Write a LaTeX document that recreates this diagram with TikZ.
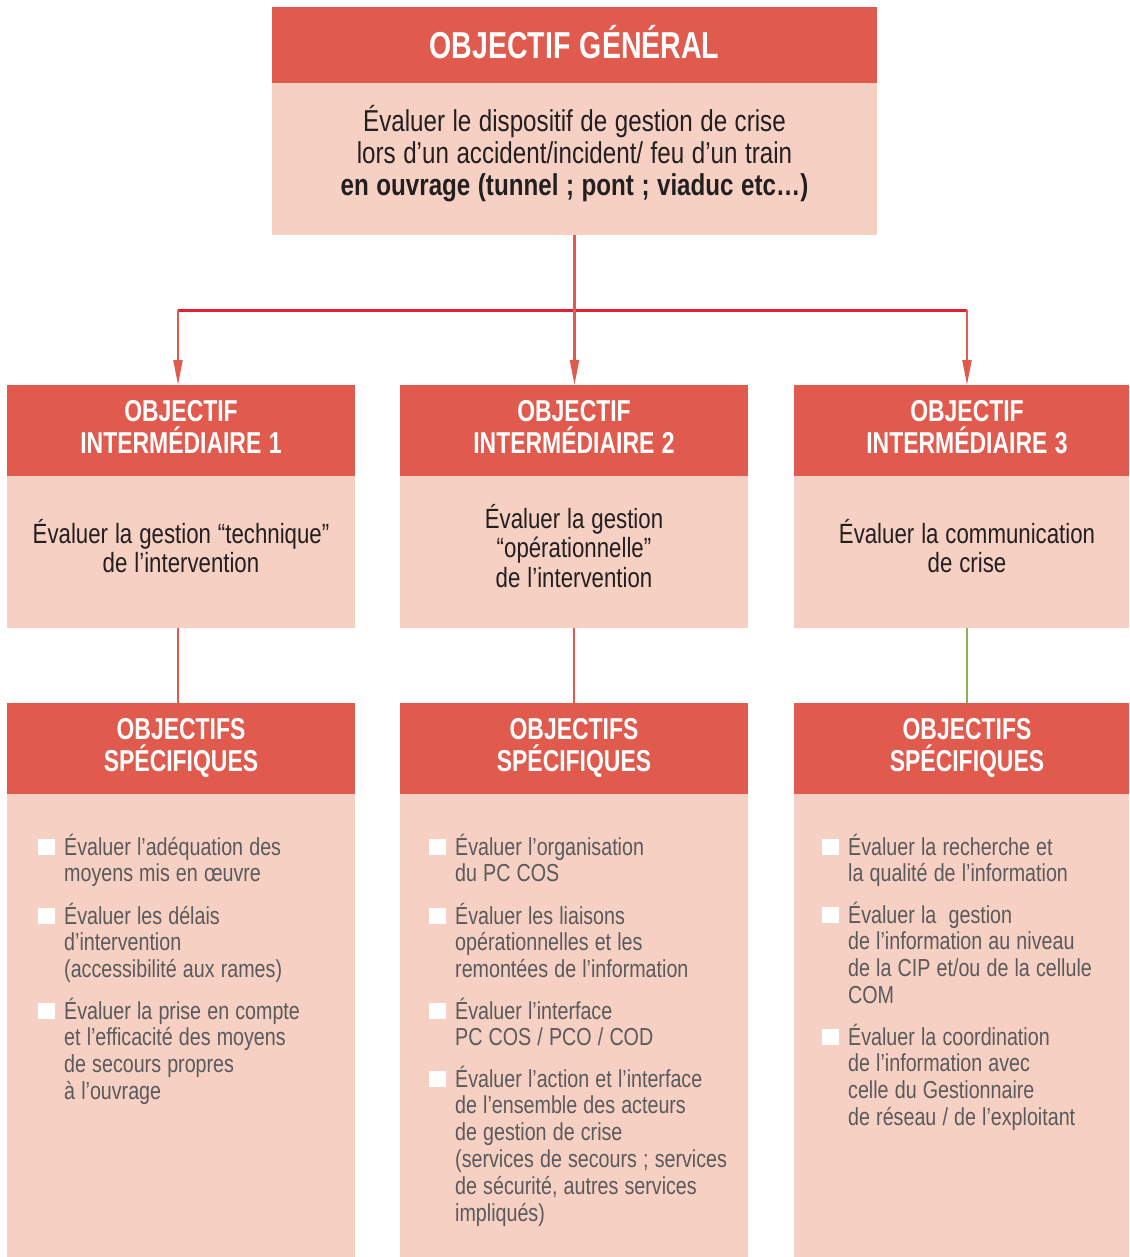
\documentclass[tikz,border=0pt]{standalone}
\usepackage{fontspec}
\setmainfont[FakeStretch=0.8]{Liberation Sans}
\newfontfamily\hdrfont[FakeStretch=0.76]{Liberation Sans}
\usetikzlibrary{arrows.meta}
\definecolor{hdr}{HTML}{E05A4D}
\definecolor{bodyc}{HTML}{F6D0C3}
\definecolor{crim}{HTML}{E2202F}
\definecolor{grn}{HTML}{8AB05A}
\definecolor{txtd}{HTML}{231F20}
\definecolor{txtg}{HTML}{5A5A5C}
\newcommand{\bitem}[4]{%
  \node[sq, anchor=south west] (#1q) at (#2-26,#3) {};
  \node[btxt] (#1) at (#2,#3) {#4};}
\newcommand{\tightsp}{\spaceskip=0.25em\relax\xspaceskip=0.25em\relax}
\begin{document}
\begin{tikzpicture}[x=1pt,y=-1pt,
  box/.style={draw=none, inner sep=0pt, outer sep=0pt, anchor=north west},
  hbox/.style={box, fill=hdr},
  bbox/.style={box, fill=bodyc},
  tt/.style={execute at begin node=\tightsp, inner sep=0pt},
  htxt/.style={tt, text=white, font=\hdrfont\bfseries\fontsize{30.2}{32}\selectfont, align=center, text width=330pt, anchor=base},
  gtxt/.style={tt, text=white, font=\hdrfont\bfseries\fontsize{37.5}{40}\selectfont, align=center, text width=560pt, anchor=base},
  toptxt/.style={tt, text=txtd, font=\fontsize{30.2}{32}\selectfont, align=center, text width=580pt, anchor=base},
  itxt/.style={tt, text=txtd, font=\fontsize{27.8}{29.5}\selectfont, align=center, text width=340pt, anchor=base},
  btxt/.style={tt, text=txtg, font=\fontsize{24.6}{26.8}\selectfont, align=left, text width=290pt, anchor=base west},
  sq/.style={fill=white, draw=none, minimum size=16.5pt, inner sep=0pt, outer sep=0pt},
  vl/.style={draw=hdr, line width=2.2pt},
  tip/.style={-{Triangle[length=25pt,width=9pt]}}
]
\useasboundingbox (0,0) rectangle (1129,1257);
% general box
\node[hbox, minimum width=605pt, minimum height=76pt] (gh) at (272,7) {};
\node[bbox, minimum width=605pt, minimum height=152pt] (gb) at (272,83) {};
\node[gtxt] (ght) at (574.5,59) {OBJECTIF GÉNÉRAL};
\node[toptxt] (gbt) at (574.5,132) {Évaluer le dispositif de gestion de crise\\
lors d’un accident/incident/ feu d’un train\\
\textbf{en ouvrage (tunnel ; pont ; viaduc etc…)}};
% columns
\foreach \n/\x/\w in {1/7/348, 2/400/348, 3/794/335}{
  \node[hbox, minimum width=\w pt, minimum height=91pt] (i\n h) at (\x,385) {};
  \node[bbox, minimum width=\w pt, minimum height=152pt] (i\n b) at (\x,476) {};
  \node[hbox, minimum width=\w pt, minimum height=91pt] (s\n h) at (\x,703) {};
  \node[bbox, minimum width=\w pt, minimum height=463pt] (s\n b) at (\x,794) {};
}
% header texts
\node[htxt] (i1t) at (181,421) {OBJECTIF\\INTERMÉDIAIRE 1};
\node[htxt] (i2t) at (574,421) {OBJECTIF\\INTERMÉDIAIRE 2};
\node[htxt] (i3t) at (967,421) {OBJECTIF\\INTERMÉDIAIRE 3};
\node[htxt] (s1t) at (181,739) {OBJECTIFS\\SPÉCIFIQUES};
\node[htxt] (s2t) at (574,739) {OBJECTIFS\\SPÉCIFIQUES};
\node[htxt] (s3t) at (967,739) {OBJECTIFS\\SPÉCIFIQUES};
% intermediate body texts
\node[itxt] (i1x) at (181,543) {Évaluer la gestion “technique”\\de l’intervention};
\node[itxt] (i2x) at (574,528) {Évaluer la gestion\\“opérationnelle”\\de l’intervention};
\node[itxt] (i3x) at (967,543) {Évaluer la communication\\de crise};
% connectors
\coordinate (jl) at (178,310);
\coordinate (jm) at (574.5,310);
\coordinate (jr) at (967,310);
\draw[crim, line width=3pt] (jl) -- (jr);
\draw[vl, tip] (jl) -- (jl |- i1h.north);
\draw[vl, tip] (jr) -- (jr |- i3h.north);
\draw[vl, tip] (gb.south) -- (gb.south |- i2h.north);
\draw[vl] (i1b.south -| jl) -- (s1h.north -| jl);
\draw[vl] (i2b.south) -- (s2h.north);
\draw[grn, line width=2.2pt] (i3b.south -| jr) -- (s3h.north -| jr);
% bullets column 1
\bitem{a1}{64}{855}{Évaluer l’adéquation des\\moyens mis en œuvre}
\bitem{a2}{64}{924}{Évaluer les délais\\d’intervention\\(accessibilité aux rames)}
\bitem{a3}{64}{1019}{Évaluer la prise en compte\\et l’efficacité des moyens\\de secours propres\\à l’ouvrage}
% bullets column 2
\bitem{b1}{455}{855}{Évaluer l’organisation\\du PC COS}
\bitem{b2}{455}{924}{Évaluer les liaisons\\opérationnelles et les\\remontées de l’information}
\bitem{b3}{455}{1019}{Évaluer l’interface\\PC COS / PCO / COD}
\bitem{b4}{455}{1087}{Évaluer l’action et l’interface\\de l’ensemble des acteurs\\de gestion de crise\\(services de secours ; services\\de sécurité, autres services\\impliqués)}
% bullets column 3
\bitem{c1}{848}{855}{Évaluer la recherche et\\la qualité de l’information}
\bitem{c2}{848}{923}{Évaluer la \ gestion\\de l’information au niveau\\de la CIP et/ou de la cellule\\COM}
\bitem{c3}{848}{1045}{Évaluer la coordination\\de l’information avec\\celle du Gestionnaire\\de réseau / de l’exploitant}
\end{tikzpicture}
\end{document}
